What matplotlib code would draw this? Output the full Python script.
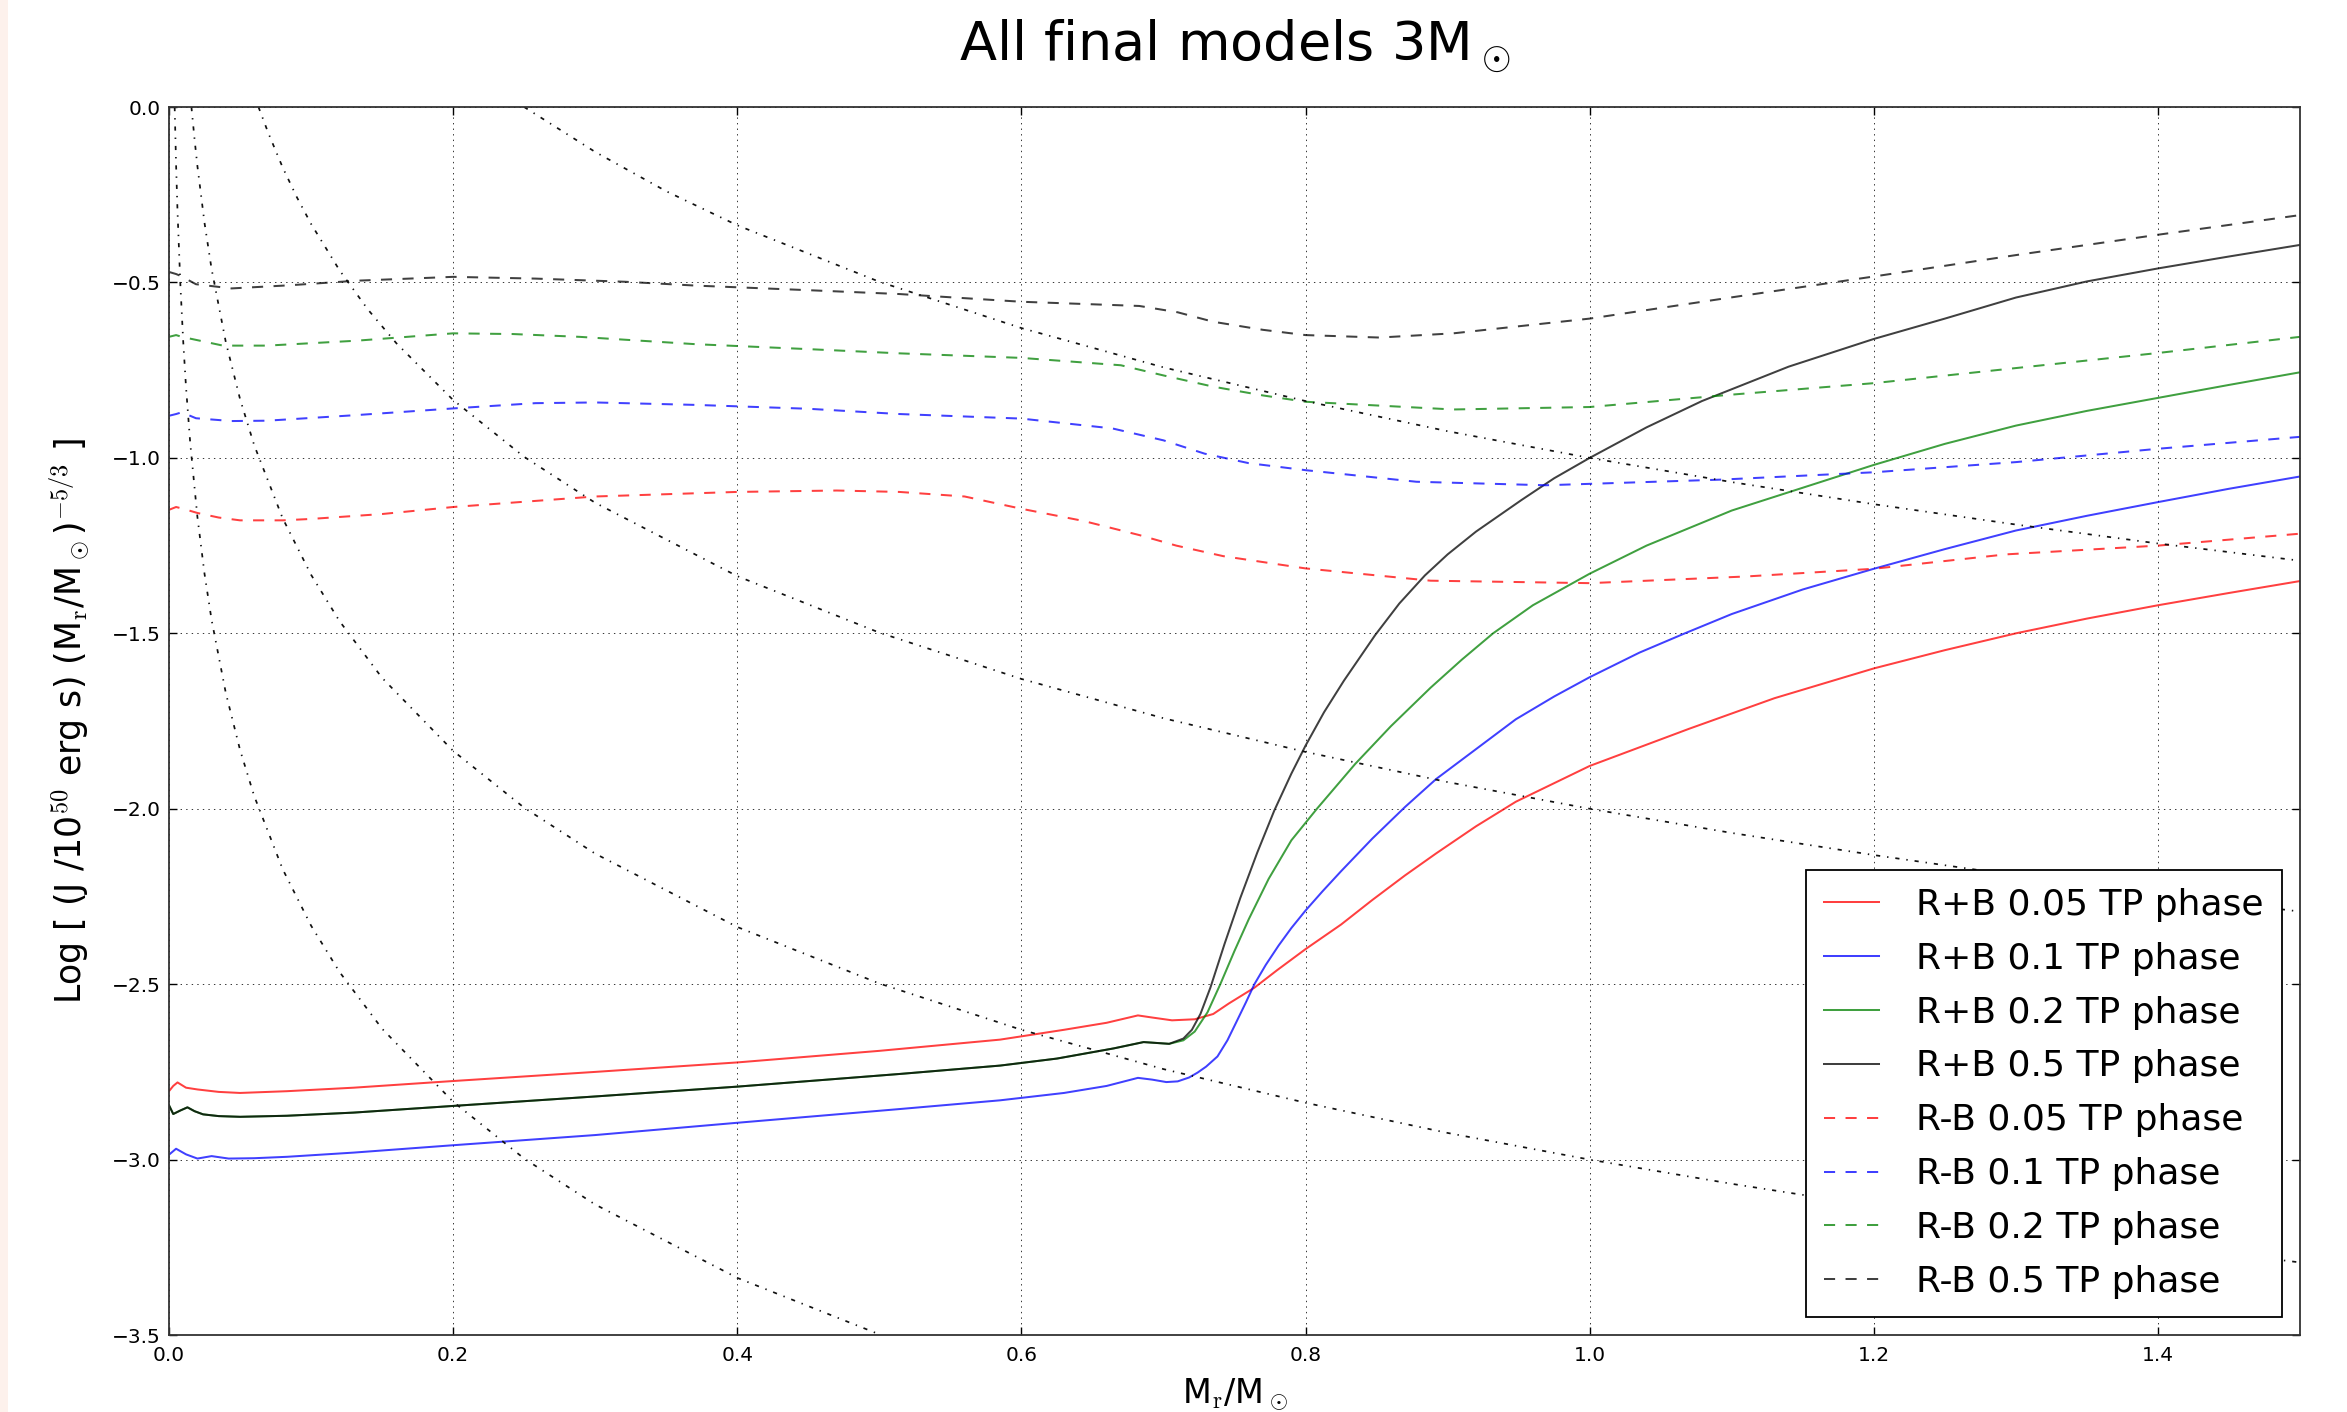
import matplotlib
matplotlib.use("Agg")
import matplotlib.pyplot as plt
from matplotlib.patches import Rectangle

# ---------------- data ----------------
# R+B solid curves
rb005_x = [0.0, 0.003, 0.006, 0.012, 0.02, 0.035, 0.05, 0.083, 0.13, 0.2, 0.3, 0.4, 0.5, 0.585, 0.63,
           0.66, 0.682, 0.692, 0.706, 0.722, 0.735, 0.746, 0.764, 0.78, 0.8, 0.825, 0.847, 0.87, 0.892,
           0.92, 0.948, 1.0, 1.07, 1.13, 1.2, 1.25, 1.3, 1.35, 1.4, 1.45, 1.5]
rb005_y = [-2.805, -2.79, -2.78, -2.795, -2.80, -2.807, -2.81, -2.805, -2.795, -2.776, -2.750, -2.723,
           -2.69, -2.658, -2.63, -2.61, -2.589, -2.595, -2.603, -2.600, -2.585, -2.555, -2.51, -2.46,
           -2.40, -2.33, -2.26, -2.19, -2.127, -2.05, -1.98, -1.878, -1.772, -1.685, -1.60, -1.548,
           -1.50, -1.458, -1.42, -1.385, -1.351]

rb01_x = [0.0, 0.005, 0.012, 0.02, 0.03, 0.042, 0.06, 0.083, 0.13, 0.2, 0.3, 0.4, 0.514, 0.585, 0.63,
          0.66, 0.682, 0.692, 0.702, 0.71, 0.718, 0.724, 0.73, 0.738, 0.745, 0.752, 0.758, 0.764,
          0.772, 0.781, 0.79, 0.8, 0.812, 0.825, 0.847, 0.87, 0.892, 0.92, 0.948, 0.975, 1.0, 1.035,
          1.067, 1.1, 1.15, 1.2, 1.25, 1.3, 1.35, 1.4, 1.45, 1.5]
rb01_y = [-2.986, -2.969, -2.985, -2.997, -2.99, -2.997, -2.996, -2.992, -2.98, -2.959, -2.93, -2.895,
          -2.856, -2.831, -2.81, -2.79, -2.767, -2.772, -2.779, -2.777, -2.766, -2.752, -2.735, -2.706,
          -2.66, -2.602, -2.552, -2.5, -2.445, -2.39, -2.34, -2.29, -2.235, -2.178, -2.085, -1.995,
          -1.915, -1.83, -1.745, -1.68, -1.625, -1.555, -1.5, -1.445, -1.375, -1.316, -1.26, -1.207,
          -1.165, -1.126, -1.088, -1.053]

rb02_x = [0.0, 0.003, 0.008, 0.013, 0.018, 0.024, 0.035, 0.05, 0.083, 0.13, 0.2, 0.3, 0.4, 0.514,
          0.585, 0.625, 0.665, 0.686, 0.704, 0.714, 0.722, 0.731, 0.74, 0.75, 0.76, 0.774, 0.79, 0.808,
          0.835, 0.86, 0.888, 0.91, 0.932, 0.96, 1.0, 1.04, 1.07, 1.1, 1.15, 1.2, 1.25, 1.3, 1.35,
          1.4, 1.45, 1.5]
rb02_y = [-2.845, -2.87, -2.86, -2.851, -2.862, -2.871, -2.876, -2.878, -2.875, -2.866, -2.847, -2.82,
          -2.792, -2.756, -2.732, -2.712, -2.683, -2.665, -2.670, -2.660, -2.635, -2.58, -2.50, -2.405,
          -2.315, -2.2, -2.09, -2.0, -1.872, -1.765, -1.655, -1.575, -1.5, -1.42, -1.33, -1.25, -1.2,
          -1.15, -1.085, -1.02, -0.96, -0.908, -0.866, -0.829, -0.792, -0.756]

rb05_x = [0.0, 0.003, 0.008, 0.013, 0.018, 0.024, 0.035, 0.05, 0.083, 0.13, 0.2, 0.3, 0.4, 0.514,
          0.585, 0.625, 0.665, 0.686, 0.704, 0.714, 0.72, 0.726, 0.733, 0.743, 0.754, 0.766, 0.778,
          0.79, 0.8, 0.813, 0.827, 0.849, 0.866, 0.884, 0.9, 0.92, 0.952, 0.975, 1.0, 1.04, 1.079,
          1.14, 1.2, 1.25, 1.3, 1.35, 1.4, 1.45, 1.5]
rb05_y = [-2.845, -2.87, -2.86, -2.851, -2.862, -2.871, -2.876, -2.878, -2.875, -2.866, -2.847, -2.82,
          -2.792, -2.756, -2.732, -2.712, -2.683, -2.665, -2.670, -2.655, -2.63, -2.585, -2.51,
          -2.385, -2.255, -2.125, -2.005, -1.9, -1.82, -1.725, -1.635, -1.505, -1.415, -1.335, -1.275,
          -1.21, -1.12, -1.058, -1.0, -0.913, -0.838, -0.74, -0.661, -0.603, -0.543, -0.497, -0.46,
          -0.426, -0.393]

# R-B dashed curves
rm005_x = [0.0, 0.005, 0.01, 0.02, 0.035, 0.05, 0.08, 0.1, 0.15, 0.2, 0.3, 0.4, 0.47, 0.514, 0.56,
           0.6, 0.644, 0.683, 0.709, 0.742, 0.8, 0.888, 1.0, 1.11, 1.2, 1.293, 1.4, 1.5]
rm005_y = [-1.148, -1.14, -1.145, -1.157, -1.17, -1.178, -1.178, -1.174, -1.16, -1.14, -1.11, -1.097,
           -1.093, -1.097, -1.11, -1.145, -1.18, -1.22, -1.25, -1.28, -1.315, -1.35, -1.357, -1.338,
           -1.316, -1.275, -1.25, -1.216]

rm01_x = [0.0, 0.005, 0.009, 0.019, 0.044, 0.069, 0.132, 0.2, 0.258, 0.3, 0.371, 0.45, 0.514, 0.6,
          0.664, 0.7, 0.729, 0.76, 0.8, 0.878, 0.969, 1.092, 1.2, 1.3, 1.4, 1.5]
rm01_y = [-0.88, -0.875, -0.870, -0.887, -0.895, -0.894, -0.878, -0.859, -0.844, -0.842, -0.849, -0.86,
          -0.875, -0.888, -0.916, -0.95, -0.988, -1.015, -1.035, -1.068, -1.078, -1.062, -1.041,
          -1.012, -0.974, -0.94]

rm02_x = [0.0, 0.005, 0.009, 0.038, 0.069, 0.132, 0.2, 0.242, 0.289, 0.371, 0.45, 0.514, 0.6, 0.67,
          0.7, 0.735, 0.77, 0.8, 0.904, 1.0, 1.099, 1.2, 1.3, 1.4, 1.5]
rm02_y = [-0.655, -0.65, -0.655, -0.68, -0.68, -0.666, -0.645, -0.647, -0.655, -0.676, -0.69, -0.702,
          -0.715, -0.736, -0.765, -0.797, -0.822, -0.840, -0.862, -0.855, -0.82, -0.787, -0.744,
          -0.701, -0.655]

rm05_x = [0.0, 0.005, 0.008, 0.019, 0.044, 0.085, 0.132, 0.2, 0.258, 0.321, 0.371, 0.45, 0.514, 0.6,
          0.683, 0.71, 0.735, 0.77, 0.8, 0.852, 0.904, 1.0, 1.099, 1.2, 1.3, 1.4, 1.5]
rm05_y = [-0.47, -0.476, -0.481, -0.505, -0.517, -0.508, -0.495, -0.484, -0.489, -0.498, -0.509,
          -0.522, -0.533, -0.555, -0.567, -0.585, -0.612, -0.635, -0.650, -0.657, -0.645, -0.603,
          -0.543, -0.483, -0.422, -0.364, -0.308]

# constant-J reference curves (dash-dot)
cj1_x = [0.25, 0.3, 0.35, 0.4, 0.5, 0.6, 0.7, 0.8, 0.9, 1.0, 1.1, 1.2, 1.3, 1.4, 1.5]
cj1_y = [0.0, -0.128, -0.240, -0.337, -0.498, -0.630, -0.742, -0.838, -0.924, -1.0, -1.069, -1.132,
         -1.190, -1.244, -1.293]
cj2_x = [0.063, 0.07, 0.08, 0.09, 0.1, 0.12, 0.14, 0.16, 0.2, 0.25, 0.3, 0.4, 0.5, 0.6, 0.7, 0.8,
         0.9, 1.0, 1.1, 1.2, 1.3, 1.4, 1.5]
cj2_y = [0.0, -0.075, -0.172, -0.257, -0.333, -0.465, -0.577, -0.673, -0.835, -0.997, -1.128, -1.337,
         -1.498, -1.630, -1.742, -1.838, -1.924, -2.0, -2.069, -2.132, -2.190, -2.244, -2.293]
cj3_x = [0.0158, 0.018, 0.02, 0.025, 0.03, 0.04, 0.05, 0.06, 0.08, 0.1, 0.12, 0.15, 0.2, 0.25, 0.3,
         0.4, 0.5, 0.6, 0.7, 0.8, 0.9, 1.0, 1.1, 1.2, 1.3, 1.4, 1.5]
cj3_y = [0.0, -0.092, -0.168, -0.330, -0.462, -0.670, -0.832, -0.964, -1.172, -1.333, -1.465, -1.627,
         -1.835, -1.997, -2.128, -2.337, -2.498, -2.630, -2.742, -2.838, -2.924, -3.0, -3.069,
         -3.132, -3.190, -3.244, -3.293]
cj4_x = [0.004, 0.005, 0.006, 0.008, 0.01, 0.012, 0.015, 0.02, 0.025, 0.03, 0.04, 0.05, 0.06, 0.08,
         0.1, 0.12, 0.15, 0.2, 0.25, 0.3, 0.4, 0.5]
cj4_y = [0.0, -0.165, -0.297, -0.505, -0.667, -0.799, -0.960, -1.168, -1.330, -1.462, -1.670, -1.832,
         -1.964, -2.172, -2.333, -2.465, -2.627, -2.835, -2.997, -3.128, -3.337, -3.498]

labels = ["R+B 0.05 TP phase", "R+B 0.1 TP phase", "R+B 0.2 TP phase", "R+B 0.5 TP phase",
          "R-B 0.05 TP phase", "R-B 0.1 TP phase", "R-B 0.2 TP phase", "R-B 0.5 TP phase"]

xticks = [0.0, 0.2, 0.4, 0.6, 0.8, 1.0, 1.2, 1.4]
yticks = [-3.5, -3.0, -2.5, -2.0, -1.5, -1.0, -0.5, 0.0]

# ---------------- style ----------------
plt.rcParams['font.family'] = ['DejaVu Sans']
plt.rcParams['mathtext.fontset'] = 'cm'
plt.rcParams['mathtext.rm'] = 'serif'
plt.rcParams['lines.scale_dashes'] = False

fig = plt.figure(figsize=(23.47, 14.12), dpi=100)
fig.patches.append(Rectangle((0, 0), 8 / 2347, 1, transform=fig.transFigure,
                             facecolor='#fdf1ec', edgecolor='none', zorder=-1))
ax = fig.add_axes([0.072, 0.0545, 0.908, 0.8697])

solid_lw = 1.45
dash = (0, (8, 7.5))
alpha = 0.75
cols = ['#ff0000', '#0000ff', '#008000', '#000000']

series = [(rb005_x, rb005_y), (rb01_x, rb01_y), (rb02_x, rb02_y), (rb05_x, rb05_y)]
for (xs, ys), c, lab in zip(series, cols, labels[:4]):
    ax.plot(xs, ys, color=c, lw=solid_lw, alpha=alpha, label=lab)
series_d = [(rm005_x, rm005_y), (rm01_x, rm01_y), (rm02_x, rm02_y), (rm05_x, rm05_y)]
for (xs, ys), c, lab in zip(series_d, cols, labels[4:]):
    ax.plot(xs, ys, color=c, lw=solid_lw, alpha=alpha, ls=dash, label=lab)

for xs, ys in [(cj1_x, cj1_y), (cj2_x, cj2_y), (cj3_x, cj3_y), (cj4_x, cj4_y)]:
    ax.plot(xs, ys, color='#111111', lw=1.25, ls=(0, (3, 5, 1, 5)))

ax.set_xlim(0, 1.5)
ax.set_ylim(-3.5, 0.0)
ax.set_xticks(xticks)
ax.set_yticks(yticks)
ax.set_xticklabels([f"{v:.1f}" for v in xticks])
ax.set_yticklabels([f"{v:.1f}".replace('-', '\u2212') for v in yticks])
ax.tick_params(direction='in', length=6, width=1, top=True, right=True, labelsize=14.5,
               colors='black')
ax.tick_params(axis='x', pad=8)
ax.tick_params(axis='y', pad=6)
for s in ax.spines.values():
    s.set_linewidth(1.3)
    s.set_color('#333333')

ax.grid(True, color='black', lw=0.7, ls=(0, (1, 3)), alpha=0.8)

ax.set_title(r'All final models 3M$_\odot$', fontsize=39, pad=34)
ax.set_xlabel(r'M$_{\rm r}$/M$_\odot$', fontsize=24, labelpad=8)
ax.set_ylabel(r'Log [ (J /10$^{50}$ erg s) (M$_{\rm r}$/M$_\odot$)$^{-5/3}$ ]', fontsize=25)
ax.yaxis.set_label_coords(-0.036, 0.5)

leg = ax.legend(loc='lower right', fontsize=26, fancybox=False, framealpha=1, borderpad=0.5,
                labelspacing=0.55, handlelength=1.5, handletextpad=1.05, borderaxespad=0.5)
leg.get_frame().set_edgecolor('black')
leg.get_frame().set_linewidth(1.3)

fig.savefig('out.png', dpi=100, facecolor='white')
